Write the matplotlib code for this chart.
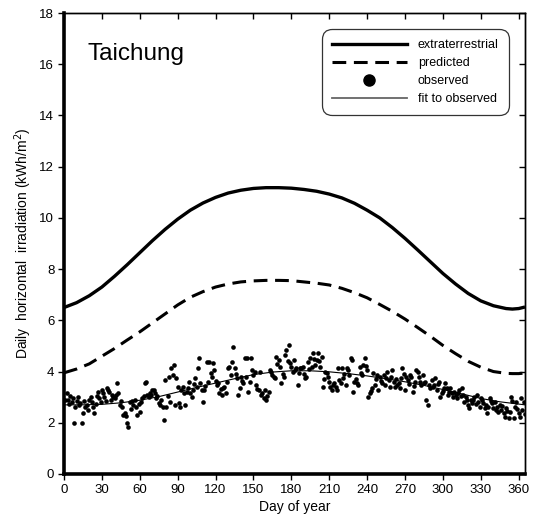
import numpy as np
import matplotlib
matplotlib.use("Agg")
import matplotlib.pyplot as plt
from matplotlib.lines import Line2D

plt.rcParams['font.family'] = ['Liberation Sans', 'DejaVu Sans']

# ---- data ----
curve_days = [0, 10, 20, 30, 40, 50, 60, 70, 80, 90, 100, 110, 120, 130, 140, 150, 160, 170,
              180, 190, 200, 210, 220, 230, 240, 250, 260, 270, 280, 290, 300, 310, 320, 330,
              340, 350, 355, 360, 365]
extraterrestrial = [6.50, 6.69, 6.96, 7.30, 7.72, 8.17, 8.64, 9.11, 9.55, 9.95, 10.30, 10.58, 10.80,
                    10.97, 11.08, 11.15, 11.18, 11.18, 11.16, 11.11, 11.04, 10.93, 10.78, 10.57, 10.30,
                    10.00, 9.62, 9.20, 8.75, 8.29, 7.83, 7.42, 7.05, 6.76, 6.57, 6.46, 6.44, 6.46, 6.52]
predicted = [3.95, 4.10, 4.30, 4.60, 4.90, 5.23, 5.55, 5.90, 6.25, 6.60, 6.90, 7.12, 7.30,
             7.42, 7.50, 7.54, 7.56, 7.56, 7.55, 7.50, 7.45, 7.38, 7.25, 7.08, 6.88, 6.62,
             6.35, 6.05, 5.72, 5.38, 5.02, 4.70, 4.40, 4.17, 4.00, 3.93, 3.92, 3.92, 3.94]

obs_days = list(range(1, 366))
observed = [
    2.90, 3.16, 2.89, 2.75, 3.05, 2.81, 2.95, 2.00, 2.62, 2.85,
    3.00, 2.70, 2.77, 2.00, 2.38, 2.85, 2.62, 2.70, 2.50, 2.90,
    3.00, 2.81, 2.62, 2.38, 2.75, 3.05, 3.20, 2.97, 2.80, 3.28,
    3.15, 3.00, 2.85, 3.36, 3.28, 3.20, 2.90, 3.09, 3.00, 2.97,
    3.10, 3.55, 3.16, 2.70, 2.85, 2.62, 2.30, 2.38, 2.25, 2.00,
    1.84, 2.81, 2.55, 2.85, 2.70, 2.89, 2.60, 2.30, 2.75, 2.42,
    2.81, 2.97, 3.05, 3.55, 3.60, 3.09, 3.00, 3.16, 3.10, 3.28,
    3.28, 3.16, 2.97, 3.05, 2.77, 2.70, 2.90, 2.60, 2.11, 3.67,
    2.62, 3.05, 3.79, 2.81, 4.14, 3.85, 4.26, 2.70, 3.75, 3.40,
    2.77, 2.62, 3.28, 3.40, 3.15, 2.70, 3.20, 3.35, 3.60, 3.16,
    3.00, 3.28, 3.50, 3.75, 3.40, 4.14, 4.53, 3.55, 3.28, 2.81,
    3.28, 3.45, 4.37, 3.60, 4.37, 3.95, 3.79, 4.33, 4.06, 3.65,
    3.48, 3.55, 3.16, 3.30, 3.09, 3.36, 3.40, 3.15, 3.60, 4.14,
    4.18, 3.85, 4.37, 4.96, 4.14, 3.90, 3.75, 3.09, 3.36, 3.79,
    3.65, 3.55, 4.53, 3.79, 4.53, 3.20, 3.60, 4.53, 4.06, 3.85,
    3.98, 3.48, 3.30, 3.28, 3.98, 3.09, 3.15, 2.97, 3.28, 2.89,
    3.05, 3.20, 4.06, 3.98, 3.85, 3.79, 3.75, 4.57, 4.30, 4.45,
    4.18, 3.55, 3.90, 3.79, 4.65, 4.84, 4.40, 5.04, 4.33, 4.18,
    4.00, 4.45, 4.06, 4.14, 3.48, 3.95, 4.14, 4.14, 4.18, 3.90,
    3.75, 3.79, 4.37, 4.10, 4.53, 4.18, 4.73, 4.50, 4.26, 4.45,
    4.73, 4.40, 4.18, 4.57, 3.40, 3.70, 3.98, 3.95, 3.79, 3.60,
    3.40, 3.28, 3.48, 3.55, 3.40, 3.28, 4.14, 3.67, 3.55, 4.14,
    3.75, 3.90, 3.48, 4.14, 4.06, 3.85, 4.53, 4.45, 3.20, 3.60,
    3.70, 3.55, 3.48, 4.18, 3.95, 3.87, 4.26, 4.53, 4.20, 4.06,
    3.00, 3.16, 3.25, 3.36, 3.95, 3.48, 3.70, 3.87, 3.28, 3.79,
    3.65, 3.55, 3.87, 3.48, 3.75, 3.98, 3.67, 3.40, 3.80, 4.06,
    3.60, 3.40, 3.70, 3.48, 3.55, 3.36, 3.75, 4.14, 3.90, 3.28,
    3.79, 3.67, 3.50, 3.87, 3.79, 3.20, 3.45, 3.60, 4.06, 3.98,
    3.80, 3.60, 3.48, 3.87, 3.55, 3.60, 2.89, 2.70, 3.48, 3.36,
    3.67, 3.40, 3.48, 3.75, 3.28, 3.50, 3.60, 3.00, 3.16, 3.25,
    3.36, 3.55, 3.36, 3.10, 3.20, 3.36, 3.16, 3.00, 3.20, 3.09,
    2.97, 3.16, 3.28, 3.05, 3.36, 3.09, 2.81, 3.00, 2.89, 2.70,
    2.58, 2.90, 2.77, 2.89, 3.00, 2.75, 3.09, 2.81, 2.62, 2.95,
    2.89, 2.77, 2.58, 2.70, 2.38, 2.62, 2.97, 2.85, 2.77, 2.58,
    2.81, 2.50, 2.62, 2.42, 2.70, 2.50, 2.65, 2.38, 2.23, 2.58,
    2.45, 2.19, 2.42, 3.00, 2.85, 2.19, 2.62, 2.81, 2.55, 2.38,
    2.23, 2.97, 2.50, 2.80, 2.35,
]

fit_days = [0, 15, 30, 45, 60, 75, 90, 105, 120, 135, 150, 165, 180, 195, 210, 225,
            240, 255, 270, 285, 300, 315, 330, 345, 365]
fit_obs = [2.70, 2.70, 2.72, 2.78, 2.88, 3.02, 3.20, 3.38, 3.55, 3.72, 3.88, 3.98, 4.03,
           4.03, 3.99, 3.92, 3.83, 3.72, 3.60, 3.46, 3.30, 3.13, 2.95, 2.82, 2.70]

x_ticks = list(range(0, 361, 30))
y_ticks = list(range(0, 19, 2))

# ---- figure ----
fig = plt.figure(figsize=(5.36, 5.28), dpi=100)
ax = fig.add_axes([64/536, 1 - 474/528, 461/536, 461/528])

ax.plot(curve_days, extraterrestrial, color='black', lw=2.4, solid_capstyle='butt')
ax.plot(curve_days, predicted, color='black', lw=2.2, linestyle=(0, (4.5, 2.5)))
ax.scatter(obs_days, observed, s=11, color='black', linewidths=0, zorder=3)
ax.plot(fit_days, fit_obs, color='black', lw=0.8, zorder=4)

ax.set_xlim(0, 365)
ax.set_ylim(0, 18)
ax.set_xticks(x_ticks)
ax.set_yticks(y_ticks)
ax.tick_params(axis='both', direction='out', length=4, width=1, labelsize=9.5, pad=3)

for side in ['left', 'bottom']:
    ax.spines[side].set_linewidth(2.6)
for side in ['top', 'right']:
    ax.spines[side].set_linewidth(1.0)

top = ax.secondary_xaxis('top')
top.set_xticks(x_ticks)
top.tick_params(direction='in', length=4, width=1, labeltop=False)
top.spines['top'].set_linewidth(1.0)
right = ax.secondary_yaxis('right')
right.set_yticks(y_ticks)
right.tick_params(direction='in', length=4, width=1, labelright=False)
right.spines['right'].set_linewidth(1.0)

ax.set_xlabel('Day of year', fontsize=10, labelpad=3)
ax.set_ylabel('Daily  horizontal  irradiation (kWh/m$^2$)', fontsize=10, labelpad=4)

ax.text(0.05, 0.91, 'Taichung', transform=ax.transAxes, fontsize=17.5,
        ha='left', va='center')

handles = [
    Line2D([], [], color='black', lw=2.4),
    Line2D([], [], color='black', lw=2.2, linestyle=(0, (4.5, 2.5))),
    Line2D([], [], color='black', marker='o', markersize=8, linestyle='none'),
    Line2D([], [], color='#666666', lw=1.3),
]
labels = ['extraterrestrial', 'predicted', 'observed', 'fit to observed']
leg = ax.legend(handles, labels, loc='upper right', bbox_to_anchor=(0.965, 0.965),
                borderaxespad=0, fontsize=9, handlelength=6.0, handletextpad=0.9,
                labelspacing=0.48, frameon=True, fancybox=True, borderpad=0.8)
leg.get_frame().set_edgecolor('black')
leg.get_frame().set_linewidth(0.9)
leg.get_frame().set_boxstyle('round', pad=0.0, rounding_size=0.8)

fig.savefig('out.png', dpi=100)
